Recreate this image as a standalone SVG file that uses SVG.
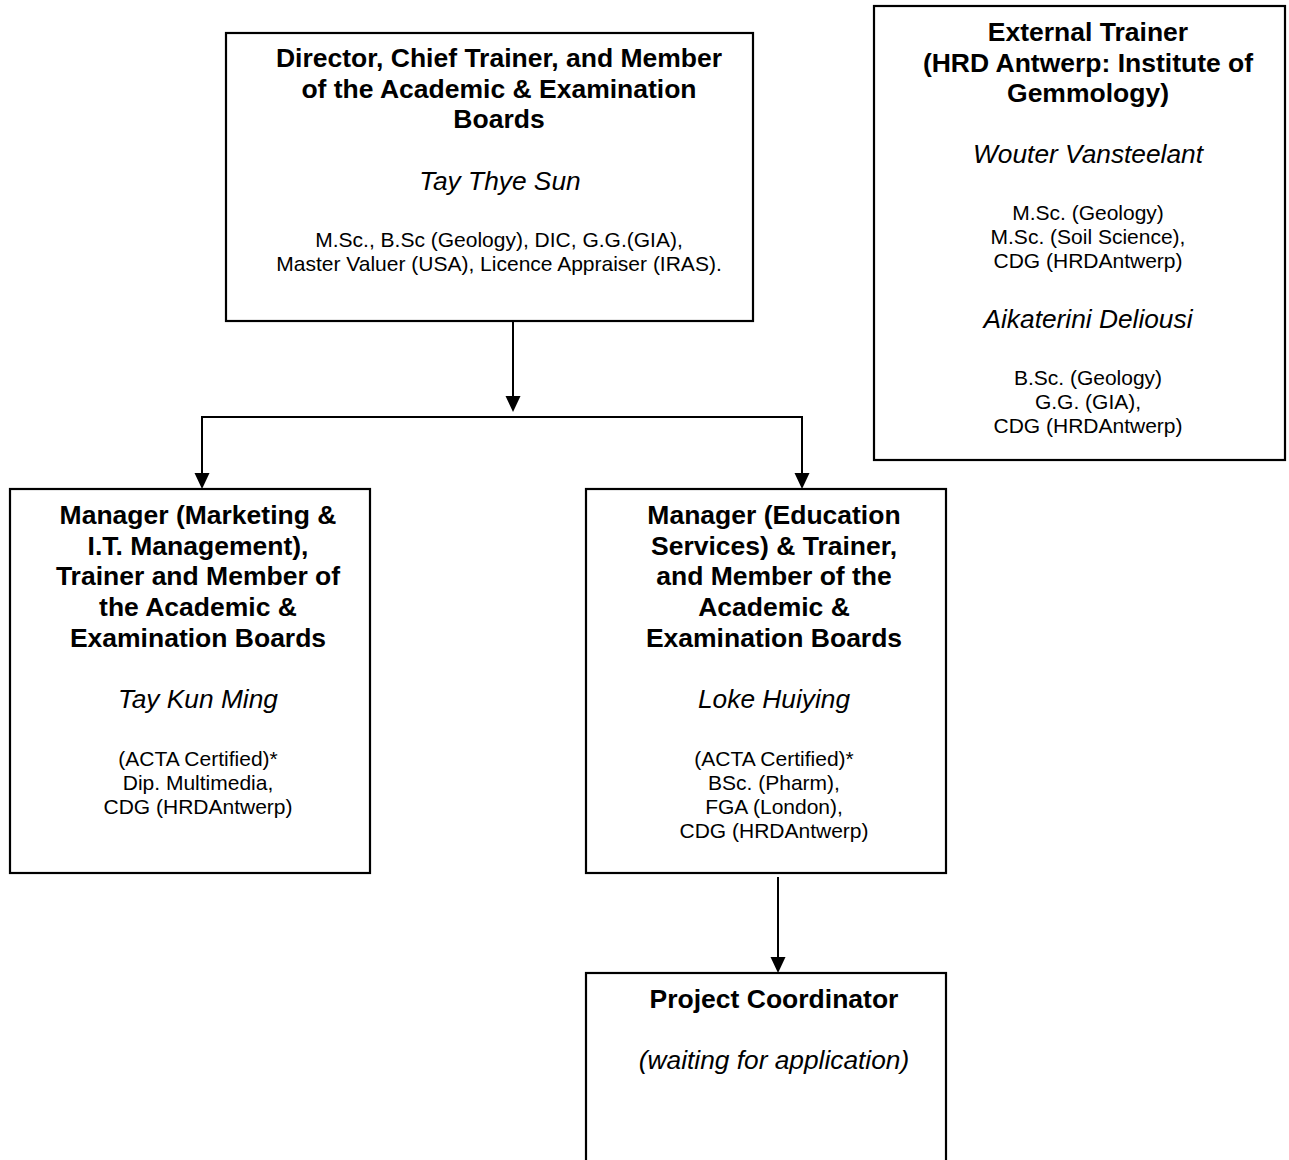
<svg xmlns="http://www.w3.org/2000/svg" width="1289" height="1160" viewBox="0 0 1289 1160">
<style>
.box{fill:#fff;stroke:#000;stroke-width:2.2}
.ln{stroke:#000;stroke-width:2;fill:none}
.ah{fill:#000}
text{font-family:"Liberation Sans",Arial,sans-serif;fill:#000;text-anchor:middle}
.t{font-size:26.5px;font-weight:bold}
.n{font-size:26.3px;font-style:italic}
.c{font-size:21px}
</style>
<rect width="1289" height="1160" fill="#fff"/>
<g id="connectors">
<line class="ln" x1="513" y1="321" x2="513" y2="398"/>
<polygon class="ah" points="505.5,396 520.5,396 513,412"/>
<polyline class="ln" points="202,473 202,417 802,417 802,473"/>
<polygon class="ah" points="194.5,473 209.5,473 202,489"/>
<polygon class="ah" points="794.5,473 809.5,473 802,489"/>
<line class="ln" x1="778" y1="877" x2="778" y2="959"/>
<polygon class="ah" points="770.5,957 785.5,957 778,973"/>
</g>
<g id="director">
<rect class="box" x="226" y="33" width="527" height="288"/>
<text class="t" x="499" y="67">Director, Chief Trainer, and Member</text>
<text class="t" x="499" y="97.7">of the Academic &amp; Examination</text>
<text class="t" x="499" y="128.4">Boards</text>
<text class="n" x="500" y="190">Tay Thye Sun</text>
<text class="c" x="499" y="247">M.Sc., B.Sc (Geology), DIC, G.G.(GIA),</text>
<text class="c" x="499" y="271">Master Valuer (USA), Licence Appraiser (IRAS).</text>
</g>
<g id="external">
<rect class="box" x="874" y="6" width="411" height="454"/>
<text class="t" x="1088" y="41">External Trainer</text>
<text class="t" x="1088" y="71.7">(HRD Antwerp: Institute of</text>
<text class="t" x="1088" y="102.4">Gemmology)</text>
<text class="n" x="1088" y="163">Wouter Vansteelant</text>
<text class="c" x="1088" y="220">M.Sc. (Geology)</text>
<text class="c" x="1088" y="244">M.Sc. (Soil Science),</text>
<text class="c" x="1088" y="268">CDG (HRDAntwerp)</text>
<text class="n" x="1088" y="328">Aikaterini Deliousi</text>
<text class="c" x="1088" y="385">B.Sc. (Geology)</text>
<text class="c" x="1088" y="409">G.G. (GIA),</text>
<text class="c" x="1088" y="433">CDG (HRDAntwerp)</text>
</g>
<g id="manager-marketing">
<rect class="box" x="10" y="489" width="360" height="384"/>
<text class="t" x="198" y="524">Manager (Marketing &amp;</text>
<text class="t" x="198" y="554.7">I.T. Management),</text>
<text class="t" x="198" y="585.4">Trainer and Member of</text>
<text class="t" x="198" y="616.1">the Academic &amp;</text>
<text class="t" x="198" y="646.8">Examination Boards</text>
<text class="n" x="198" y="708">Tay Kun Ming</text>
<text class="c" x="198" y="766">(ACTA Certified)*</text>
<text class="c" x="198" y="790">Dip. Multimedia,</text>
<text class="c" x="198" y="814">CDG (HRDAntwerp)</text>
</g>
<g id="manager-education">
<rect class="box" x="586" y="489" width="360" height="384"/>
<text class="t" x="774" y="524">Manager (Education</text>
<text class="t" x="774" y="554.7">Services) &amp; Trainer,</text>
<text class="t" x="774" y="585.4">and Member of the</text>
<text class="t" x="774" y="616.1">Academic &amp;</text>
<text class="t" x="774" y="646.8">Examination Boards</text>
<text class="n" x="774" y="708">Loke Huiying</text>
<text class="c" x="774" y="766">(ACTA Certified)*</text>
<text class="c" x="774" y="790">BSc. (Pharm),</text>
<text class="c" x="774" y="814">FGA (London),</text>
<text class="c" x="774" y="838">CDG (HRDAntwerp)</text>
</g>
<g id="project-coordinator">
<rect class="box" x="586" y="973" width="360" height="240"/>
<text class="t" x="774" y="1008">Project Coordinator</text>
<text class="n" x="774" y="1069">(waiting for application)</text>
</g>
</svg>
